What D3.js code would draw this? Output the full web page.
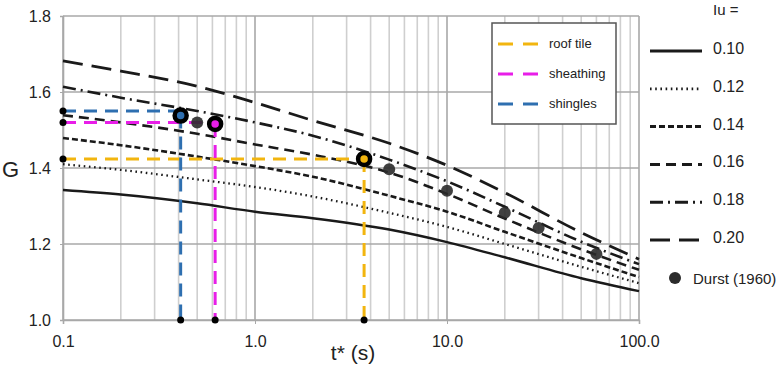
<!DOCTYPE html>
<html lang="en">
<head>
<meta charset="UTF-8">
<title>Gust factor G vs t*</title>
<script src="https://d3js.org/d3.v7.min.js"></script>
<style>
  body { margin: 0; background: #fff; }
  text { font-family: "Liberation Sans", Arial, sans-serif; fill: #222; }
</style>
</head>
<body>
<div id="chart"></div>
<script>
// gust duration t* (s) sampled along each curve
const tVals = [0.1, 0.2, 0.5, 1, 2, 5, 10, 20, 50, 100];
// G for each turbulence intensity Iu
const iuLabels = ["0.10", "0.12", "0.14", "0.16", "0.18", "0.20"];
const g010 = [1.342, 1.330, 1.307, 1.285, 1.268, 1.238, 1.205, 1.165, 1.110, 1.076];
const g012 = [1.410, 1.395, 1.370, 1.350, 1.325, 1.282, 1.245, 1.200, 1.140, 1.097];
const g014 = [1.479, 1.460, 1.430, 1.405, 1.377, 1.327, 1.285, 1.232, 1.163, 1.113];
const g016 = [1.539, 1.520, 1.490, 1.462, 1.435, 1.388, 1.332, 1.267, 1.186, 1.132];
const g018 = [1.614, 1.585, 1.550, 1.520, 1.485, 1.422, 1.365, 1.298, 1.206, 1.147];
const g020 = [1.682, 1.655, 1.615, 1.572, 1.525, 1.465, 1.407, 1.335, 1.230, 1.160];

// Durst (1960)
const durstT = [0.5, 5, 10, 20, 30, 60];
const durstG = [1.52, 1.397, 1.34, 1.282, 1.242, 1.174];

// roof components
const matNames = ["roof tile", "sheathing", "shingles"];
const matT = [3.7, 0.62, 0.41];
const matLineG = [1.424, 1.52, 1.55];
const matPointG = [1.424, 1.516, 1.538];
const matColors = ["#f2b50f", "#e81ee8", "#2e6fb0"];

const xTicks = [0.1, 1, 10, 100];
const yTicks = [1.0, 1.2, 1.4, 1.6, 1.8];

const width = 782, height = 375;
const svg = d3.select("#chart").append("svg")
  .attr("width", width).attr("height", height);

const x = d3.scaleLog().domain([0.1, 100]).range([63, 639]);
const y = d3.scaleLinear().domain([1.0, 1.8]).range([320, 16]);

// grid
const minor = [];
[0.1, 1, 10].forEach(d => { for (let k = 2; k <= 9; k++) minor.push(d * k); });
svg.append("g").selectAll("line").data(minor).join("line")
  .attr("x1", d => x(d)).attr("x2", d => x(d))
  .attr("y1", y(1.0)).attr("y2", y(1.8))
  .attr("stroke", "#cfcfcf").attr("stroke-width", 1.6);
svg.append("g").selectAll("line").data(xTicks).join("line")
  .attr("x1", d => x(d)).attr("x2", d => x(d))
  .attr("y1", y(1.0)).attr("y2", y(1.8))
  .attr("stroke", "#a8a8a8").attr("stroke-width", 1.6);
svg.append("g").selectAll("line").data(yTicks).join("line")
  .attr("x1", x(0.1)).attr("x2", x(100))
  .attr("y1", d => y(d)).attr("y2", d => y(d))
  .attr("stroke", "#a8a8a8").attr("stroke-width", 1.6);

// axes
const xAxis = svg.append("g").attr("transform", `translate(0,${y(1.0)})`)
  .call(d3.axisBottom(x).tickValues(xTicks).tickFormat(d3.format(".1f")).tickSize(4).tickPadding(12));
const yAxis = svg.append("g").attr("transform", `translate(${x(0.1)},0)`)
  .call(d3.axisLeft(y).tickValues(yTicks).tickFormat(d3.format(".1f")).tickSize(3).tickPadding(9));
[xAxis, yAxis].forEach(a => {
  a.select(".domain").attr("stroke", "#a8a8a8").attr("stroke-width", 1.6);
  a.selectAll(".tick line").attr("stroke", "#a8a8a8");
  a.selectAll(".tick text").attr("font-size", 16).attr("fill", "#222")
    .attr("font-family", "Liberation Sans, Arial, sans-serif");
});

// curves
const series = [g010, g012, g014, g016, g018, g020];
const dashes = [null, "1.6,3.6", "6,3", "10,6", "13,5,2,5", "20,9"];
const widths = [2.5, 2.3, 2.6, 2.6, 2.6, 2.8];
const line = d3.line().x(d => x(d[0])).y(d => y(d[1])).curve(d3.curveMonotoneX);
series.forEach((s, i) => {
  svg.append("path")
    .datum(tVals.map((t, j) => [t, s[j]]))
    .attr("d", line)
    .attr("fill", "none")
    .attr("stroke", "#1a1a1a")
    .attr("stroke-width", widths[i])
    .attr("stroke-dasharray", dashes[i]);
});

// component guide lines
matNames.forEach((n, i) => {
  svg.append("path")
    .attr("d", `M${x(0.1)},${y(matLineG[i])}H${x(matT[i])}`)
    .attr("stroke", matColors[i]).attr("stroke-width", 3)
    .attr("stroke-dasharray", "13,8").attr("fill", "none");
  svg.append("path")
    .attr("d", `M${x(matT[i])},${y(matPointG[i])}V${y(1.0)}`)
    .attr("stroke", matColors[i]).attr("stroke-width", 3)
    .attr("stroke-dasharray", "13,8").attr("fill", "none");
});

// Durst points
svg.append("g").selectAll("circle").data(durstT).join("circle")
  .attr("cx", d => x(d)).attr("cy", (d, i) => y(durstG[i]))
  .attr("r", 6).attr("fill", "#2b2b2b").attr("opacity", 0.9);

// component points
svg.append("g").selectAll("circle").data(matT).join("circle")
  .attr("cx", d => x(d)).attr("cy", (d, i) => y(matPointG[i]))
  .attr("r", 6).attr("fill", (d, i) => matColors[i])
  .attr("stroke", "#000").attr("stroke-width", 4.5);

// axis marker dots
svg.append("g").selectAll("circle").data(matLineG).join("circle")
  .attr("cx", x(0.1)).attr("cy", d => y(d)).attr("r", 3.5).attr("fill", "#000");
svg.append("g").selectAll("circle").data(matT).join("circle")
  .attr("cx", d => x(d)).attr("cy", y(1.0)).attr("r", 3.5).attr("fill", "#000");

// axis titles
svg.append("text").attr("x", 2).attr("y", 177).attr("font-size", 22).text("G");
svg.append("text").attr("x", 353).attr("y", 360).attr("font-size", 21)
  .attr("text-anchor", "middle").text("t* (s)");

// inner legend
const lg = svg.append("g");
lg.append("rect").attr("x", 492).attr("y", 23).attr("width", 124).attr("height", 101)
  .attr("fill", "#fff").attr("stroke", "#555").attr("stroke-width", 1.5);
matNames.forEach((n, i) => {
  const yy = 44 + i * 30;
  lg.append("line").attr("x1", 498).attr("x2", 538).attr("y1", yy).attr("y2", yy)
    .attr("stroke", matColors[i]).attr("stroke-width", 3).attr("stroke-dasharray", "15,10");
  lg.append("text").attr("x", 549).attr("y", yy + 4).attr("font-size", 13).text(n);
});

// right legend
const rl = svg.append("g");
rl.append("text").attr("x", 713).attr("y", 15).attr("font-size", 15).text("Iu =");
iuLabels.forEach((lab, i) => {
  const yy = 51 + i * 37.8;
  rl.append("line").attr("x1", 650).attr("x2", 702).attr("y1", yy).attr("y2", yy)
    .attr("stroke", "#1a1a1a").attr("stroke-width", widths[i] + 0.4)
    .attr("stroke-dasharray", dashes[i]);
  rl.append("text").attr("x", 713).attr("y", yy + 3).attr("font-size", 16).text(lab);
});
rl.append("circle").attr("cx", 675).attr("cy", 278).attr("r", 6).attr("fill", "#2b2b2b");
rl.append("text").attr("x", 693).attr("y", 284).attr("font-size", 15).text("Durst (1960)");
</script>
</body>
</html>
